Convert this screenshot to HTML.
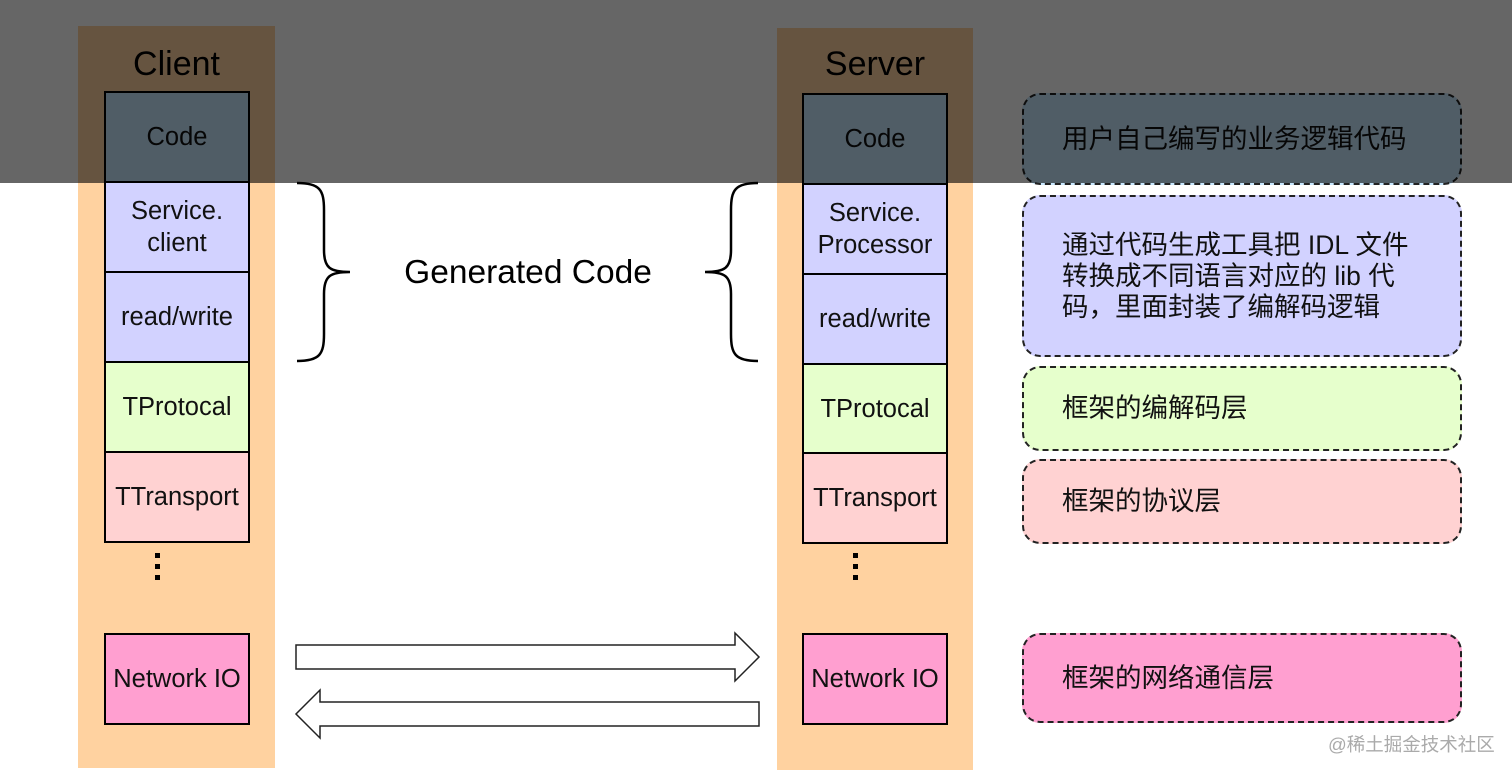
<!DOCTYPE html>
<html><head><meta charset="utf-8"><style>
body{margin:0;width:1512px;height:775px;background:#fff;position:relative;overflow:hidden;font-family:"Liberation Sans","Noto Sans CJK SC",sans-serif;}
.a{position:absolute;box-sizing:border-box;}
.col{background:#ffd2a0;}
.b{border:2.5px solid #000;display:flex;align-items:center;justify-content:center;text-align:center;font-size:25.5px;line-height:32px;color:#111;white-space:nowrap;}
.r{border:2px dashed #222;border-radius:18px;font-size:26.5px;line-height:31px;padding-left:38px;display:flex;align-items:center;color:#111;white-space:nowrap;}
.title{font-size:34px;text-align:center;color:#000;}
</style></head><body>
<div class="a col" style="left:78px;top:26px;width:197px;height:742px"></div>
<div class="a col" style="left:777px;top:28px;width:196px;height:742px"></div>
<div class="a title" style="left:78px;top:45px;width:197px">Client</div>
<div class="a title" style="left:777px;top:45px;width:196px">Server</div>

<div class="a b" style="left:104px;top:91px;width:146px;height:92px;background:#c8e8ff">Code</div>
<div class="a b" style="left:104px;top:181px;width:146px;height:92px;background:#d2d2ff">Service.<br>client</div>
<div class="a b" style="left:104px;top:271px;width:146px;height:92px;background:#d2d2ff">read/write</div>
<div class="a b" style="left:104px;top:361px;width:146px;height:92px;background:#e6ffcc">TProtocal</div>
<div class="a b" style="left:104px;top:451px;width:146px;height:92px;background:#ffd2d2">TTransport</div>
<div class="a b" style="left:104px;top:633px;width:146px;height:92px;background:#ff9fd0">Network IO</div>

<div class="a b" style="left:802px;top:93px;width:146px;height:92px;background:#c8e8ff">Code</div>
<div class="a b" style="left:802px;top:183px;width:146px;height:92px;background:#d2d2ff">Service.<br>Processor</div>
<div class="a b" style="left:802px;top:273px;width:146px;height:92px;background:#d2d2ff">read/write</div>
<div class="a b" style="left:802px;top:363px;width:146px;height:91px;background:#e6ffcc">TProtocal</div>
<div class="a b" style="left:802px;top:452px;width:146px;height:92px;background:#ffd2d2">TTransport</div>
<div class="a b" style="left:802px;top:633px;width:146px;height:92px;background:#ff9fd0">Network IO</div>

<svg class="a" style="left:0;top:0" width="1512" height="775">
<g fill="#000"><rect x="155" y="553" width="5" height="5"/><rect x="155" y="564" width="5" height="5"/><rect x="155" y="575" width="5" height="5"/>
<rect x="853" y="553" width="5" height="5"/><rect x="853" y="564" width="5" height="5"/><rect x="853" y="575" width="5" height="5"/></g>
<path d="M297 183 C320 183 324 190 324 210 L324 250 C324 268 330 272 350 272 C330 272 324 276 324 294 L324 334 C324 354 320 361 297 361" fill="none" stroke="#000" stroke-width="2.5"/>
<path d="M758 183 C735 183 731 190 731 210 L731 250 C731 268 725 272 705 272 C725 272 731 276 731 294 L731 334 C731 354 735 361 758 361" fill="none" stroke="#000" stroke-width="2.5"/>
<path d="M296 645 L735 645 L735 633 L759 657 L735 681 L735 669 L296 669 Z" fill="#fff" stroke="#222" stroke-width="1.5"/>
<path d="M759 702 L320 702 L320 690 L296 714 L320 738 L320 726 L759 726 Z" fill="#fff" stroke="#222" stroke-width="1.5"/>
</svg>
<div class="a" style="left:360px;top:254px;width:336px;text-align:center;font-size:33.5px;color:#000">Generated Code</div>

<div class="a r" style="left:1022px;top:93px;width:440px;height:92px;background:#c8e8ff">用户自己编写的业务逻辑代码</div>
<div class="a r" style="left:1022px;top:195px;width:440px;height:162px;background:#d2d2ff">通过代码生成工具把 IDL 文件<br>转换成不同语言对应的 lib 代<br>码，里面封装了编解码逻辑</div>
<div class="a r" style="left:1022px;top:366px;width:440px;height:85px;background:#e6ffcc">框架的编解码层</div>
<div class="a r" style="left:1022px;top:459px;width:440px;height:85px;background:#ffd2d2">框架的协议层</div>
<div class="a r" style="left:1022px;top:633px;width:440px;height:90px;background:#ff9fd0">框架的网络通信层</div>
<div class="a" style="left:1328px;top:731px;font-size:18.5px;color:#aaa">@稀土掘金技术社区</div>

<div class="a" style="left:0;top:0;width:1512px;height:183px;background:rgba(0,0,0,0.6)"></div>
</body></html>
